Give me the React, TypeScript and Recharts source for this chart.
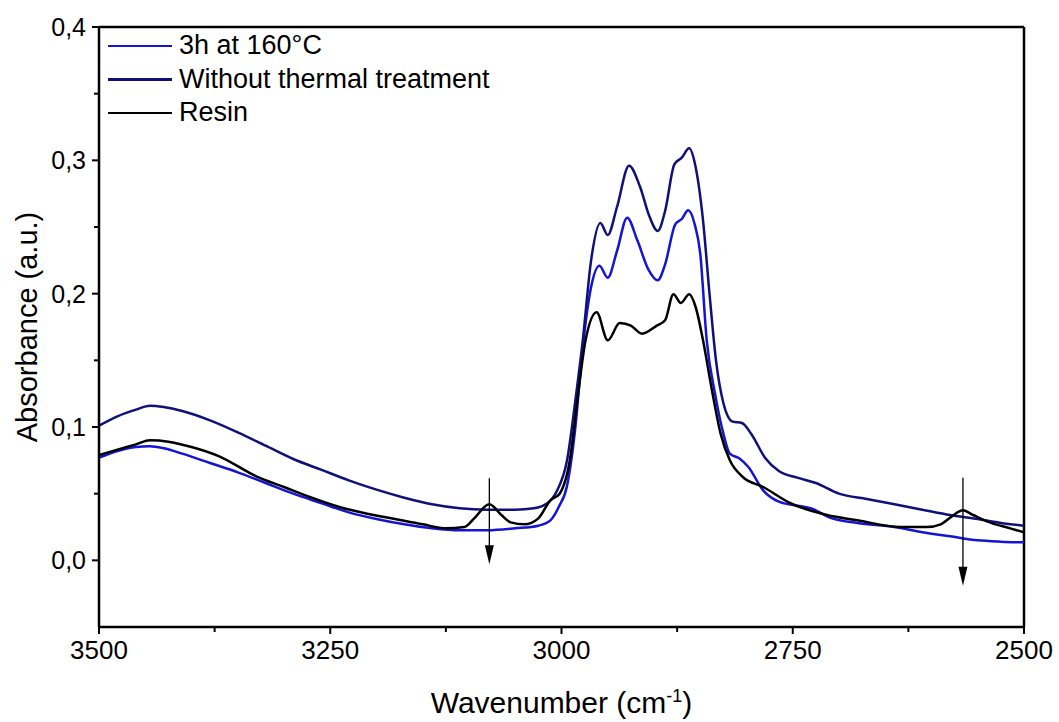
import React from 'react';
import { LineChart, Line, XAxis, YAxis, ReferenceLine, ReferenceDot, Label } from 'recharts';

// wavenumber (cm-1) / absorbance pairs
const treatedWave = [3500, 3480, 3460, 3445, 3430, 3410, 3380, 3350, 3320, 3290, 3260, 3230, 3200, 3170, 3140, 3110, 3080, 3050, 3025, 3012, 3003, 2994, 2985, 2977, 2968, 2959, 2950, 2940, 2929, 2918, 2906, 2896, 2888, 2877, 2870, 2863, 2856, 2850, 2843, 2834, 2825, 2818, 2808, 2798, 2782, 2765, 2745, 2730, 2710, 2680, 2640, 2610, 2580, 2550, 2525, 2500];
const treatedAbs = [0.077, 0.082, 0.085, 0.0855, 0.084, 0.08, 0.073, 0.066, 0.058, 0.05, 0.043, 0.036, 0.031, 0.027, 0.024, 0.0225, 0.0225, 0.024, 0.026, 0.03, 0.04, 0.056, 0.1, 0.16, 0.205, 0.221, 0.212, 0.232, 0.257, 0.24, 0.218, 0.21, 0.222, 0.252, 0.256, 0.2625, 0.252, 0.23, 0.165, 0.125, 0.095, 0.08, 0.0765, 0.07, 0.0525, 0.044, 0.041, 0.039, 0.032, 0.028, 0.025, 0.021, 0.018, 0.015, 0.014, 0.0135];

const untreatedWave = [3500, 3480, 3460, 3445, 3430, 3410, 3380, 3350, 3320, 3290, 3260, 3230, 3200, 3170, 3140, 3110, 3080, 3050, 3030, 3015, 3005, 2994, 2985, 2977, 2968, 2958, 2950, 2940, 2927, 2915, 2905, 2896, 2888, 2878, 2870, 2862, 2855, 2847, 2840, 2833, 2825, 2815, 2805, 2795, 2780, 2765, 2745, 2725, 2700, 2670, 2640, 2610, 2580, 2550, 2525, 2500];
const untreatedAbs = [0.101, 0.108, 0.113, 0.116, 0.115, 0.112, 0.105, 0.096, 0.086, 0.076, 0.068, 0.06, 0.053, 0.047, 0.042, 0.039, 0.038, 0.038, 0.039, 0.043, 0.052, 0.075, 0.12, 0.165, 0.225, 0.253, 0.244, 0.265, 0.296, 0.28, 0.258, 0.247, 0.262, 0.297, 0.302, 0.309, 0.295, 0.255, 0.2, 0.15, 0.118, 0.104, 0.103, 0.095, 0.077, 0.067, 0.062, 0.058, 0.05, 0.046, 0.042, 0.038, 0.034, 0.031, 0.028, 0.026];

const resinWave = [3500, 3480, 3460, 3445, 3425, 3400, 3370, 3330, 3300, 3270, 3240, 3210, 3180, 3150, 3125, 3105, 3095, 3078, 3065, 3055, 3040, 3025, 3012, 3002, 2991, 2982, 2974, 2962, 2950, 2937, 2925, 2913, 2897, 2888, 2879, 2871, 2862, 2855, 2847, 2838, 2828, 2818, 2804, 2782, 2753, 2713, 2680, 2634, 2605, 2590, 2578, 2566, 2555, 2537, 2515, 2500];
const resinAbs = [0.079, 0.083, 0.087, 0.09, 0.089, 0.085, 0.078, 0.063, 0.055, 0.047, 0.04, 0.035, 0.031, 0.027, 0.024, 0.025, 0.031, 0.042, 0.034, 0.0285, 0.027, 0.0315, 0.045, 0.05, 0.075, 0.125, 0.165, 0.186, 0.165, 0.178, 0.176, 0.17, 0.176, 0.18, 0.1995, 0.193, 0.1995, 0.19, 0.165, 0.13, 0.095, 0.075, 0.0625, 0.055, 0.043, 0.034, 0.03, 0.025, 0.025, 0.027, 0.033, 0.0375, 0.034, 0.0285, 0.024, 0.021];

const xTicks = [3500, 3375, 3250, 3125, 3000, 2875, 2750, 2625, 2500];
const yTicks = [0, 0.05, 0.1, 0.15, 0.2, 0.25, 0.3, 0.35, 0.4];

// arrows: [wavenumber, start absorbance, tip absorbance]
const arrowWave = [3078, 2566];
const arrowFrom = [0.0615, 0.062];
const arrowTo = [-0.003, -0.019];

const seriesNames = ['3h at 160°C', 'Without thermal treatment', 'Resin'];
const seriesColors = ['#1414d4', '#10107a', '#000000'];

const zip = (w: number[], a: number[]) => w.map((v, i) => ({ w: v, a: a[i] }));
const treated = zip(treatedWave, treatedAbs);
const untreated = zip(untreatedWave, untreatedAbs);
const resin = zip(resinWave, resinAbs);

const FONT = '"Liberation Sans", Arial, sans-serif';

const XTick = (props: any) => {
  const { x, y, payload } = props;
  const major = payload.value % 250 === 0;
  return (
    <g>
      <line x1={x} x2={x} y1={y} y2={y + (major ? 7 : 5)} stroke="#000" strokeWidth={2} />
      {major && (
        <text x={x} y={y + 14} dy="0.71em" textAnchor="middle" fontSize={26} fontFamily={FONT} fill="#000">
          {payload.value}
        </text>
      )}
    </g>
  );
};

const YTick = (props: any) => {
  const { x, y, payload } = props;
  const major = Math.round(payload.value * 100) % 10 === 0;
  return (
    <g>
      <line x1={x - (major ? 7 : 5)} x2={x} y1={y} y2={y} stroke="#000" strokeWidth={2} />
      {major && (
        <text x={x - 13} y={y} dy="0.355em" textAnchor="end" fontSize={25} fontFamily={FONT} fill="#000">
          {payload.value.toFixed(1).replace('.', ',')}
        </text>
      )}
    </g>
  );
};

const ArrowHead = (props: any) => {
  const { cx, cy } = props;
  return <path d={`M${cx - 4.5},${cy - 19} L${cx + 4.5},${cy - 19} L${cx},${cy} Z`} fill="#000" />;
};

export default function App() {
  return (
    <div style={{ position: 'absolute', left: 0, top: 0, width: 1059, height: 722, background: '#fff' }}>
      <LineChart width={1059} height={722} margin={{ top: 27, right: 35, bottom: 35, left: 39 }}>
        <XAxis
          dataKey="w"
          type="number"
          domain={[2500, 3500]}
          reversed
          ticks={xTicks}
          interval={0}
          tick={<XTick />}
          tickLine={false}
          tickSize={0}
          tickMargin={0}
          height={60}
          axisLine={{ stroke: '#000', strokeWidth: 2.5 }}
          allowDataOverflow
        >
          <Label
            content={(p: any) => {
              const vb = p.viewBox;
              const cx = vb.x + vb.width / 2;
              return (
                <text x={cx} y={713} textAnchor="middle" fontSize={30} fontFamily={FONT} fill="#000">
                  <tspan>Wavenumber (cm</tspan>
                  <tspan dy={-11} fontSize={18}>-1</tspan>
                  <tspan dy={11}>)</tspan>
                </text>
              );
            }}
          />
        </XAxis>
        <YAxis
          type="number"
          domain={[-0.05, 0.4]}
          ticks={yTicks}
          interval={0}
          tick={<YTick />}
          tickLine={false}
          tickSize={0}
          tickMargin={0}
          width={60}
          axisLine={{ stroke: '#000', strokeWidth: 2.5 }}
          allowDataOverflow
        >
          <Label
            content={() => (
              <text x={37} y={327} transform="rotate(-90 37 327)" textAnchor="middle" fontSize={29} fontFamily={FONT} fill="#000">
                Absorbance (a.u.)
              </text>
            )}
          />
        </YAxis>
        <ReferenceLine y={0.4} stroke="#000" strokeWidth={2.5} />
        <ReferenceLine x={2500} stroke="#000" strokeWidth={2.5} />
        <Line data={treated} dataKey="a" type="monotone" stroke={seriesColors[0]} strokeWidth={2.5} dot={false} isAnimationActive={false} />
        <Line data={untreated} dataKey="a" type="monotone" stroke={seriesColors[1]} strokeWidth={2.5} dot={false} isAnimationActive={false} />
        <Line data={resin} dataKey="a" type="monotone" stroke={seriesColors[2]} strokeWidth={2.5} dot={false} isAnimationActive={false} />
        {arrowWave.map((w, i) => (
          <ReferenceLine
            key={'al' + i}
            segment={[{ x: w, y: arrowFrom[i] }, { x: w, y: arrowTo[i] + 0.012 }]}
            stroke="#000"
            strokeWidth={1.3}
          />
        ))}
        {arrowWave.map((w, i) => (
          <ReferenceDot key={'ah' + i} x={w} y={arrowTo[i]} r={1} shape={<ArrowHead />} />
        ))}
      </LineChart>
      <div style={{ position: 'absolute', left: 108, top: 29, fontFamily: FONT, fontSize: 27, color: '#000' }}>
        {seriesNames.map((n, i) => (
          <div key={n} style={{ display: 'flex', alignItems: 'center', height: 33.5 }}>
            <div style={{ width: 64, height: 2.5, background: seriesColors[i], marginRight: 7 }} />
            <span>{n}</span>
          </div>
        ))}
      </div>
    </div>
  );
}
